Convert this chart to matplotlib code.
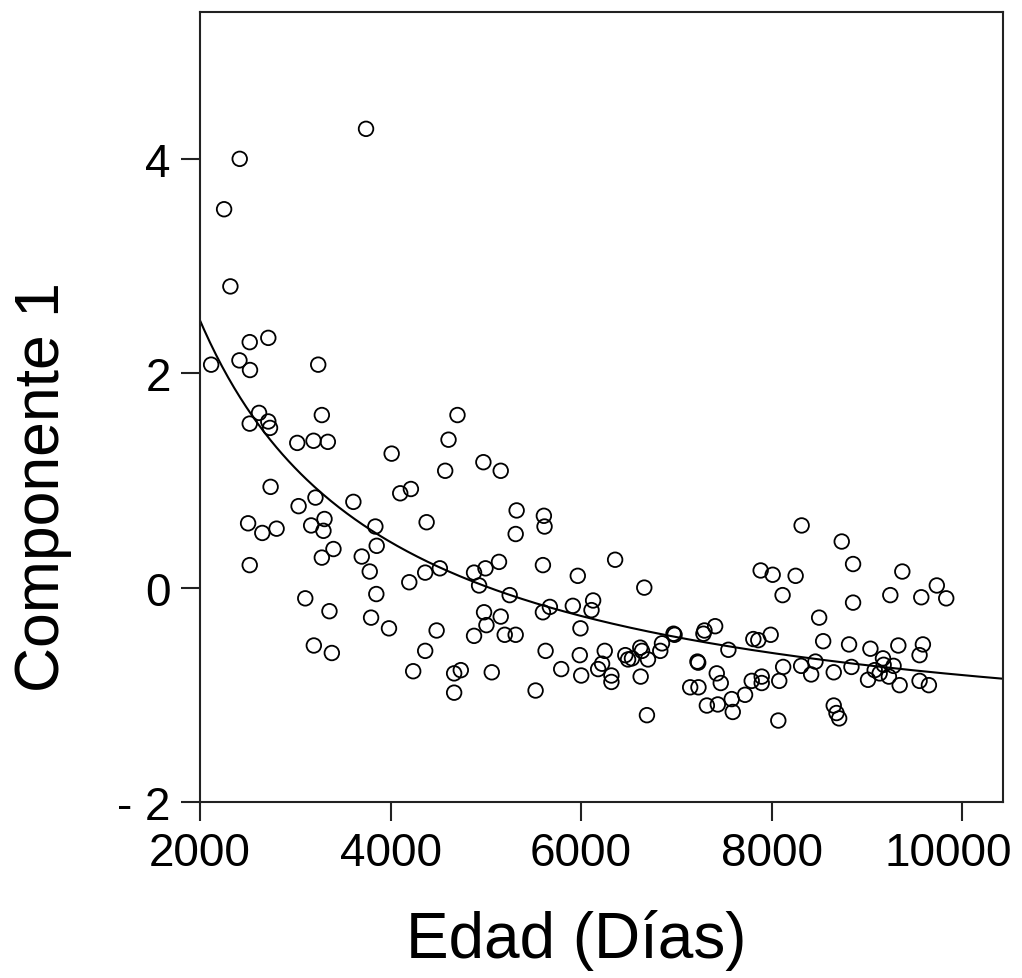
import numpy as np
import matplotlib
matplotlib.use("Agg")
import matplotlib.pyplot as plt
import matplotlib.transforms as mtransforms
from matplotlib.ticker import FuncFormatter

plt.rcParams['font.family'] = ['Liberation Sans', 'DejaVu Sans']

# edad (dias) y componente 1
edad = [
    2417, 3743, 2253, 2319, 2522, 2717, 2117, 2414, 2525, 3241,
    2620, 2522, 2717, 2735, 3279, 4703, 4609, 3021, 3192, 3342,
    4012, 4975, 5157, 4574, 2741, 4102, 4214, 5324, 5610, 5617,
    5314, 3212, 3035, 3610, 2505, 2654, 2804, 3167, 3307, 3296,
    3841, 4379, 2522, 3401, 3279, 3855, 3698, 3782, 4518, 4364,
    5139, 4997, 4877, 5600, 4197, 4930, 5966, 5251, 3851, 3105,
    3359, 3796, 3984, 5673, 5600, 5914, 6127, 6110, 4982, 5157,
    5007, 4484, 4877, 5199, 5314, 5994, 5628, 5987, 4364, 3195,
    3384, 4238, 4668, 4738, 5063, 4668, 5792, 6002, 5523,
    8316, 8737, 8856, 9373, 9735, 9834, 9572, 9247, 8856, 7886,
    8012, 8253, 8116, 6358, 6664, 8500, 8542, 8814, 9038, 9331,
    9589, 9554, 9170, 9177, 9083, 9135, 9281, 9232, 9013, 9345,
    9554, 9652, 8839, 8653, 8461, 8416, 8311, 8122, 7991, 7809,
    7861, 7547, 7408, 7296, 7285, 6982, 6971, 7222, 7230, 7425,
    7467, 7146, 7233, 7321, 7436, 7582, 7593, 7722, 7792, 7897,
    7897, 8081, 8071, 8653, 8682, 8710, 6692, 6626, 6703, 6622,
    6640, 6832, 6850, 6465, 6494, 6535, 6249, 6221, 6180, 6319,
    6319,
]
componente1 = [
    4.00, 4.28, 3.53, 2.81, 2.29, 2.33, 2.08, 2.12, 2.03, 2.08,
    1.63, 1.53, 1.55, 1.49, 1.61, 1.61, 1.38, 1.35, 1.37, 1.36,
    1.25, 1.17, 1.09, 1.09, 0.94, 0.88, 0.92, 0.72, 0.67, 0.57,
    0.50, 0.84, 0.76, 0.80, 0.60, 0.51, 0.55, 0.58, 0.64, 0.53,
    0.57, 0.61, 0.21, 0.36, 0.28, 0.39, 0.29, 0.15, 0.18, 0.14,
    0.24, 0.18, 0.14, 0.21, 0.05, 0.02, 0.11, -0.07, -0.06, -0.10,
    -0.22, -0.28, -0.38, -0.18, -0.23, -0.17, -0.12, -0.21, -0.23, -0.27,
    -0.35, -0.40, -0.45, -0.44, -0.44, -0.38, -0.59, -0.63, -0.59, -0.54,
    -0.61, -0.78, -0.80, -0.77, -0.79, -0.98, -0.76, -0.82, -0.96,
    0.58, 0.43, 0.22, 0.15, 0.02, -0.10, -0.09, -0.07, -0.14, 0.16,
    0.12, 0.11, -0.07, 0.26, 0.00, -0.28, -0.50, -0.53, -0.57, -0.54,
    -0.53, -0.63, -0.66, -0.72, -0.77, -0.80, -0.73, -0.83, -0.86, -0.91,
    -0.87, -0.91, -0.74, -0.79, -0.69, -0.81, -0.73, -0.74, -0.44, -0.48,
    -0.49, -0.58, -0.36, -0.40, -0.43, -0.44, -0.43, -0.69, -0.70, -0.80,
    -0.89, -0.93, -0.93, -1.10, -1.09, -1.04, -1.16, -1.00, -0.87, -0.83,
    -0.89, -0.87, -1.24, -1.10, -1.17, -1.22, -1.19, -0.83, -0.67, -0.56,
    -0.59, -0.59, -0.52, -0.63, -0.67, -0.66, -0.59, -0.71, -0.76, -0.82,
    -0.88,
]

xticks = [2000, 4000, 6000, 8000, 10000]
yticks = [-2, 0, 2, 4]

x = np.array(edad, dtype=float)
y = np.array(componente1)

# modelo inverso y = b0 + b1/x ajustado a los puntos
b1, b0 = np.polyfit(1 / x, y, 1)
xmin, xmax = 2000, 10430
xs = np.linspace(xmin, xmax, 400)
ys = b0 + b1 / xs

fig = plt.figure(figsize=(10.22, 9.79), dpi=100)
ax = fig.add_axes([200 / 1022, 1 - 803 / 979, 803 / 1022, 790 / 979])

ax.scatter(x, y, s=110, facecolors='none', edgecolors='black', linewidths=1.3, zorder=3)
ax.plot(xs, ys, color='black', lw=1.5, zorder=2)

ax.set_xlim(xmin, xmax)
ax.set_ylim(-2, 5.37)
ax.set_xticks(xticks)
ax.set_yticks(yticks)
ax.yaxis.set_major_formatter(FuncFormatter(lambda v, p: '- %d' % -v if v < 0 else '%d' % v))

for s in ax.spines.values():
    s.set_linewidth(1.5)
    s.set_color('#222222')
ax.tick_params(direction='out', length=14, width=1.5, labelsize=33, pad=7, colors='#222222')
ax.tick_params(labelcolor='black')

# el ultimo rotulo del eje x queda algo a la izquierda, dentro de la figura
last = ax.xaxis.get_major_ticks()[-1].label1
last.set_transform(last.get_transform() +
                   mtransforms.ScaledTranslation(-0.14, 0, fig.dpi_scale_trans))

ax.set_xlabel('Edad (Días)', fontsize=46)
ax.set_ylabel('Componente 1', fontsize=45)
ax.xaxis.set_label_coords(0.468, -0.135)
ax.yaxis.set_label_coords(-0.16, 0.40)

fig.savefig('out.png', dpi=100)
